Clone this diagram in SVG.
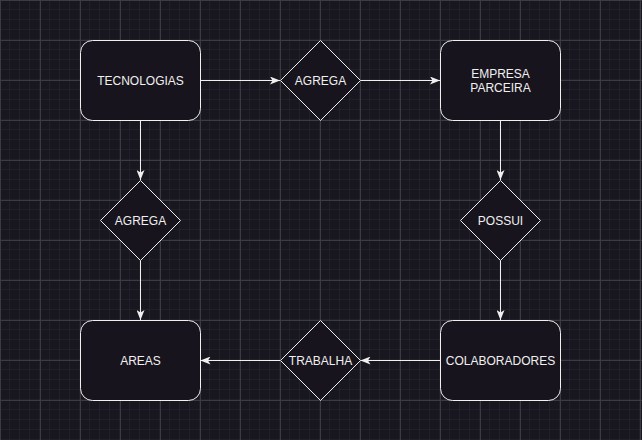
<svg xmlns="http://www.w3.org/2000/svg" width="642" height="440" viewBox="0 0 642 440">
  <defs>
    <pattern id="minor" width="10" height="10" patternUnits="userSpaceOnUse">
      <path d="M10 0V10M0 10H10" fill="none" stroke="#2a2830" stroke-width="1"/>
    </pattern>
    <pattern id="grid" width="40" height="40" patternUnits="userSpaceOnUse">
      <rect width="40" height="40" fill="url(#minor)"/>
      <path d="M0.5 0V40M0 0.5H40" fill="none" stroke="#3c3a42" stroke-width="1"/>
    </pattern>
    <marker id="arrow" viewBox="0 0 10 8" refX="10" refY="4" markerWidth="10" markerHeight="8" markerUnits="userSpaceOnUse" orient="auto">
      <path d="M0 0L10 4L0 8L2.5 4Z" fill="#f0f0f0"/>
    </marker>
    <style>
      .node rect, .node polygon { fill: #18141d; stroke: #f0f0f0; stroke-width: 1; }
      .node text { fill: #f0f0f0; font-family: "Liberation Sans", Arial, sans-serif; font-size: 12px; text-anchor: middle; }
      .edges path { fill: none; stroke: #f0f0f0; stroke-width: 1; marker-end: url(#arrow); }
    </style>
  </defs>
  <rect width="642" height="440" fill="#18161f"/>
  <rect width="642" height="440" fill="url(#grid)"/>

  <g class="edges">
    <path d="M200.5 80.5H280"/>
    <path d="M360.5 80.5H440"/>
    <path d="M500.5 120.5V180"/>
    <path d="M500.5 260.5V320"/>
    <path d="M440 360.5H360.5"/>
    <path d="M280 360.5H200.5"/>
    <path d="M140.5 120.5V180"/>
    <path d="M140.5 260.5V320"/>
  </g>

  <g id="tecnologias" class="node">
    <rect x="80.5" y="40.5" width="120" height="80" rx="12" ry="12"/>
    <text x="140.5" y="84.5">TECNOLOGIAS</text>
  </g>
  <g id="agrega-top" class="node">
    <polygon points="320.5,40.5 360.5,80.5 320.5,120.5 280.5,80.5"/>
    <text x="320.5" y="84.5">AGREGA</text>
  </g>
  <g id="empresa-parceira" class="node">
    <rect x="440.5" y="40.5" width="120" height="80" rx="12" ry="12"/>
    <text x="500.5" y="77.5">EMPRESA</text>
    <text x="500.5" y="91.5">PARCEIRA</text>
  </g>
  <g id="agrega-left" class="node">
    <polygon points="140.5,180.5 180.5,220.5 140.5,260.5 100.5,220.5"/>
    <text x="140.5" y="224.5">AGREGA</text>
  </g>
  <g id="possui" class="node">
    <polygon points="500.5,180.5 540.5,220.5 500.5,260.5 460.5,220.5"/>
    <text x="500.5" y="224.5">POSSUI</text>
  </g>
  <g id="areas" class="node">
    <rect x="80.5" y="320.5" width="120" height="80" rx="12" ry="12"/>
    <text x="140.5" y="364.5">AREAS</text>
  </g>
  <g id="trabalha" class="node">
    <polygon points="320.5,320.5 360.5,360.5 320.5,400.5 280.5,360.5"/>
    <text x="320.5" y="364.5">TRABALHA</text>
  </g>
  <g id="colaboradores" class="node">
    <rect x="440.5" y="320.5" width="120" height="80" rx="12" ry="12"/>
    <text x="500.5" y="364.5">COLABORADORES</text>
  </g>
</svg>
